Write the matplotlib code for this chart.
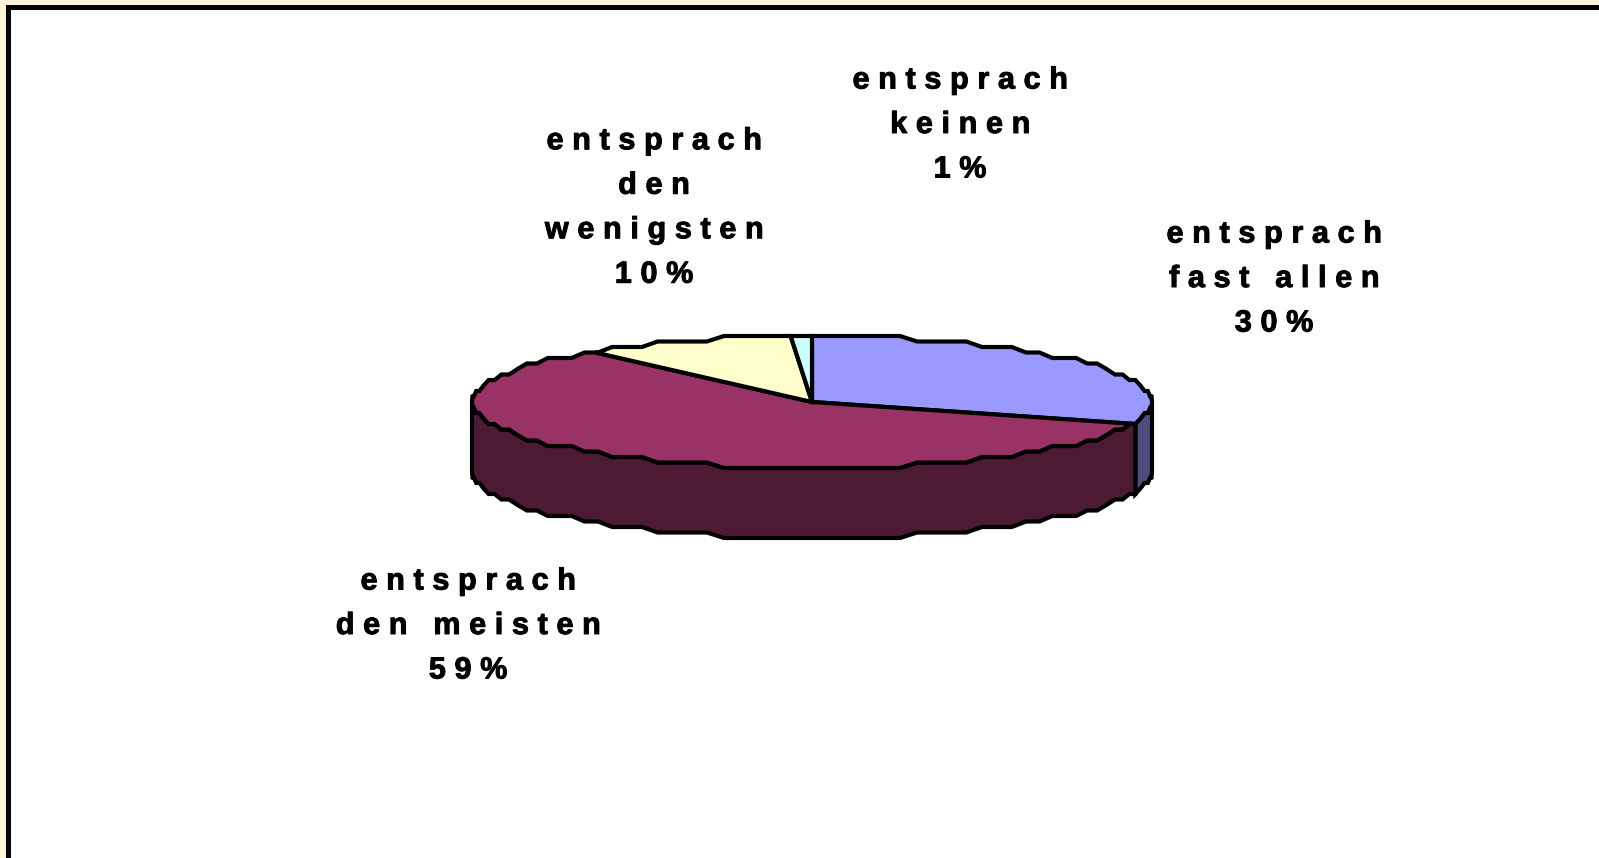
"""Flat 3D pie of how far expectations were met, in old office-chart style."""

import matplotlib

matplotlib.use("Agg")
import matplotlib.patheffects as pe
import matplotlib.pyplot as plt
import numpy as np
from matplotlib.patches import Polygon, Rectangle

# data, clockwise from 12 o'clock
categories = ["entsprach\nfast allen", "entsprach\nden meisten", "entsprach\nden\nwenigsten", "entsprach\nkeinen"]
values = [30, 59, 10, 1]
top_colors = ["#9999FF", "#993366", "#FFFFCC", "#CCFFFF"]
side_colors = ["#4D4D80", "#4D1A33", "#80804D", "#668080"]
label_x = [1274, 468, 654, 960]
label_y = [279, 626, 208, 125]

# pie geometry in image pixels
CX, CY = 812, 402
RX, RY = 340, 66
DEPTH = 70
STEP_DEG = 3.0
STEP_Y = 5.5
LW = 3.0


def rim(t_deg, drop=0.0):
	"""Points on the ellipse, y snapped to a coarse grid like the old renderer."""
	t = np.radians(t_deg)
	x = CX + RX * np.sin(t)
	y = CY - np.round(RY * np.cos(t) / STEP_Y) * STEP_Y
	return np.column_stack([x, y + drop])


def arc_angles(a, b):
	inner = np.arange(np.ceil(a / STEP_DEG) * STEP_DEG, b, STEP_DEG)
	return np.concatenate([[a], inner, [b]])


def spaced(text):
	"""Wide tracking: thin spaces between the letters of each line."""
	return "\n".join("\u2009\u200a".join(line) for line in text.split("\n"))


fig = plt.figure(figsize=(15.99, 8.58), dpi=100, facecolor="#FDF3D9")
ax = fig.add_axes([0, 0, 1, 1])
ax.set_xlim(0, 1599)
ax.set_ylim(858, 0)
ax.axis("off")

# chart frame runs off the right and bottom of the image
ax.add_patch(Rectangle((7.5, 7), 1700, 1000, facecolor="white", edgecolor="black", lw=3.6))

edges = np.concatenate([[0], np.cumsum(values)]) / np.sum(values) * 360

# side wall: only the front half of the rim (90..270 deg) shows
for i in range(len(values)):
	a, b = max(edges[i], 90), min(edges[i + 1], 270)
	if b <= a:
		continue
	ts = arc_angles(a, b)
	pts = np.vstack([rim(ts), rim(ts[::-1], DEPTH)])
	ax.add_patch(Polygon(pts, closed=True, facecolor=side_colors[i], edgecolor="black", lw=LW, joinstyle="miter"))

# top face
for i in range(len(values)):
	ts = arc_angles(edges[i], edges[i + 1])
	pts = np.vstack([[[CX, CY]], rim(ts)])
	ax.add_patch(Polygon(pts, closed=True, facecolor=top_colors[i], edgecolor="black", lw=LW, joinstyle="miter"))

for cat, val, x, y in zip(categories, values, label_x, label_y):
	ax.text(
		x, y, spaced(f"{cat}\n{val}%"),
		ha="center", va="center", ma="center",
		family=["Liberation Sans", "DejaVu Sans"],
		fontsize=22, fontweight="bold", linespacing=1.63, color="black",
		path_effects=[pe.withStroke(linewidth=0.7, foreground="black")],
	)

fig.savefig("out.png", dpi=100, facecolor=fig.get_facecolor())
plt.close(fig)
